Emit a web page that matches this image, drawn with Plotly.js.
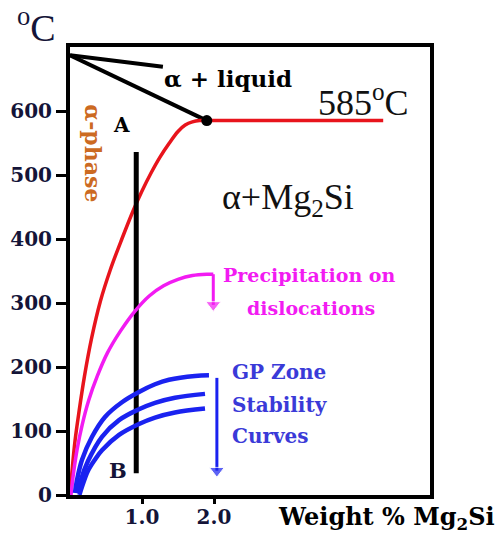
<!DOCTYPE html>
<html>
<head>
<meta charset="utf-8">
<script src="https://cdn.plot.ly/plotly-3.0.1.min.js"></script>
<style>html,body{margin:0;padding:0;background:#fff;}#chart{width:498px;height:541px;}</style>
</head>
<body>
<div id="chart"></div>
<script>
// ---- Data ----
const yTickVals = [0, 100, 200, 300, 400, 500, 600];
const xTickVals = [1, 2];
const xTickText = ["1.0", "2.0"];

// boundary lines from the Al melting point
const upperLineX = [0, 1.29];
const upperLineY = [687, 669];
const liquidusX = [0, 1.90];
const liquidusY = [687, 585];
const eutecticPointX = [1.90];
const eutecticPointY = [585];

// solvus (red)
const solvusX = [0, 0.03, 0.07, 0.125, 0.2, 0.3, 0.42, 0.56, 0.72, 0.88, 1.0, 1.12, 1.25, 1.38, 1.5, 1.6, 1.7, 1.8, 1.9];
const solvusY = [0, 40, 85, 130, 185, 245, 302, 352, 400, 445, 475, 502, 528, 550, 568, 578, 583, 585, 585];
const plateauX = [1.90, 4.35];
const plateauY = [585, 585];

// A-B composition line
const abX = [0.92, 0.92];
const abY = [536, 34];

// precipitation on dislocations (magenta)
const precipX = [0.014, 0.05, 0.1, 0.17, 0.26, 0.38, 0.52, 0.7, 0.9, 1.1, 1.3, 1.5, 1.7, 1.9, 1.99];
const precipY = [0, 35, 72, 110, 148, 186, 222, 256, 287, 311, 327, 337, 343, 345, 345];
const precipArrowX = [1.99, 1.99];
const precipArrowY = [345, 297];

// GP zone stability curves (blue)
const gp1X = [0.069, 0.097, 0.167, 0.306, 0.486, 0.722, 0.958, 1.181, 1.375, 1.736, 1.93];
const gp1Y = [3, 23, 55, 91, 122, 145, 161, 173, 180, 186, 187];
const gp2X = [0.11, 0.15, 0.25, 0.444, 0.681, 0.958, 1.181, 1.458, 1.875];
const gp2Y = [3, 23, 53, 91, 117, 134, 144, 152, 158];
const gp3X = [0.13, 0.17, 0.25, 0.35, 0.444, 0.681, 0.958, 1.181, 1.458, 1.875];
const gp3Y = [0, 14, 38, 56, 70, 94, 111, 121, 129, 135];
const gpArrowX = [2.04, 2.04];
const gpArrowY = [183, 38];

// ---- Styling ----
const SERIF = "Liberation Serif";
const BOLD = "DejaVu Serif";
const RED = "#e8141c", MAGENTA = "#f21bf2", BLUE = "#1a22f0", GPTEXT = "#3a3ad8", ORANGE = "#cc6a22", NAVY = "#141438";

function line(x, y, color, width, smooth) {
  const l = {color: color, width: width};
  if (smooth) { l.shape = "spline"; l.smoothing = 1; }
  return {x: x, y: y, mode: "lines", line: l, hoverinfo: "skip"};
}
function arrow(x, y, color) {
  return {x: x, y: y, mode: "lines+markers", line: {color: color, width: 3},
          marker: {symbol: ["circle", "triangle-down"], size: [0, 13], color: color}, hoverinfo: "skip"};
}

const traces = [
  line(upperLineX, upperLineY, "#000", 4),
  line(liquidusX, liquidusY, "#000", 4),
  line(solvusX, solvusY, RED, 3.5, true),
  line(plateauX, plateauY, RED, 3.5),
  {x: eutecticPointX, y: eutecticPointY, mode: "markers", marker: {color: "#000", size: 11}},
  line(abX, abY, "#000", 5),
  line(precipX, precipY, MAGENTA, 3.5, true),
  arrow(precipArrowX, precipArrowY, MAGENTA),
  line(gp1X, gp1Y, BLUE, 4.5, true),
  line(gp2X, gp2Y, BLUE, 4.5, true),
  line(gp3X, gp3Y, BLUE, 4.5, true),
  arrow(gpArrowX, gpArrowY, BLUE)
];

const tickFont = {family: BOLD, size: 20, color: NAVY, weight: "bold"};

function note(x, y, text, font, extra) {
  return Object.assign({x: x, y: y, text: text, showarrow: false, xanchor: "center", yanchor: "middle", font: font}, extra || {});
}
function boldFont(size, color) { return {family: BOLD, size: size, color: color, weight: "bold"}; }

const layout = {
  width: 498, height: 541,
  margin: {l: 70, r: 68, t: 47, b: 46},
  paper_bgcolor: "#fff", plot_bgcolor: "#fff",
  showlegend: false,
  xaxis: {
    range: [0, 5], showgrid: false, zeroline: false,
    showline: true, mirror: true, linecolor: "#000", linewidth: 4,
    tickmode: "array", tickvals: xTickVals, ticktext: xTickText,
    ticks: "outside", ticklen: 5, tickwidth: 3, tickcolor: "#000",
    ticklabelstandoff: -4,
    tickfont: tickFont
  },
  yaxis: {
    range: [0, 700], showgrid: false, zeroline: false,
    showline: true, mirror: true, linecolor: "#000", linewidth: 4,
    tickmode: "array", tickvals: yTickVals,
    ticks: "outside", ticklen: 10, tickwidth: 3, tickcolor: "#000",
    tickfont: tickFont
  },
  annotations: [
    note(-0.092, 1.049, "<sup>o</sup>C", {family: SERIF, size: 38, color: NAVY}, {xref: "paper", yref: "paper"}),
    note(4.40, -0.051, "Weight % Mg<sub>2</sub>Si", boldFont(24, "#000"), {yref: "paper"}),
    note(2.19, 651, "α + liquid", boldFont(23, "#000")),
    note(4.07, 617, "585<sup>o</sup>C", {family: SERIF, size: 36, color: "#111"}),
    note(3.03, 461, "α+Mg<sub>2</sub>Si", {family: SERIF, size: 36, color: "#111"}),
    note(0.72, 578, "A", boldFont(20, "#000")),
    note(0.67, 39, "B", boldFont(21, NAVY)),
    note(0.32, 534, "α-phase", boldFont(22, ORANGE), {textangle: 90}),
    note(3.33, 344, "Precipitation on", boldFont(19, MAGENTA)),
    note(3.35, 292, "dislocations", boldFont(19, MAGENTA)),
    note(2.22, 192, "GP Zone", boldFont(20, GPTEXT), {xanchor: "left"}),
    note(2.22, 141, "Stability", boldFont(20, GPTEXT), {xanchor: "left"}),
    note(2.22, 92, "Curves", boldFont(20, GPTEXT), {xanchor: "left"})
  ]
};

Plotly.newPlot("chart", traces, layout, {displayModeBar: false, staticPlot: true});
</script>
</body>
</html>
